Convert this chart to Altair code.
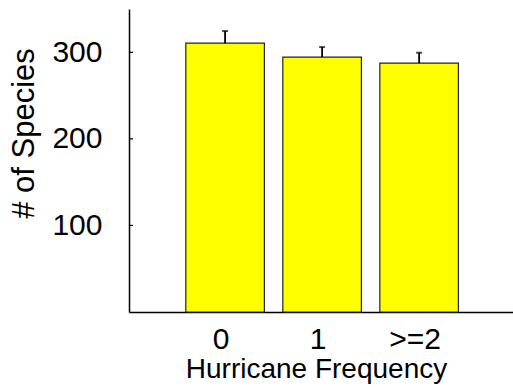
import altair as alt
import pandas as pd

categories = ["0", "1", ">=2"]
species_mean = [310.5, 294.5, 287.5]
species_upper = [324.5, 306.0, 299.5]
y_ticks = [100, 200, 300]

df = pd.DataFrame({"freq": categories, "mean": species_mean, "upper": species_upper})
ticks_df = pd.DataFrame({"t": y_ticks})

FONT = "Liberation Sans"

x_enc = alt.X(
    "freq:N",
    sort=categories,
    scale=alt.Scale(paddingInner=0.19, paddingOuter=0.574, align=0.51),
    axis=alt.Axis(
        title="Hurricane Frequency",
        labelAngle=0,
        ticks=False,
        tickSize=0,
        labelPadding=12,
        labelOffset=-4,
        labelFontSize=30,
        labelFont=FONT,
        labelColor="black",
        titleFontSize=28,
        titleFont=FONT,
        titleFontWeight="normal",
        titleColor="black",
        titleBaseline="alphabetic",
        titleAlign="center",
        titleX=187,
        titleY=65,
        domainColor="black",
        domainWidth=1.5,
    ),
)

y_scale = alt.Scale(domain=[0, 350], nice=False)

bars = alt.Chart(df).mark_bar(
    color="#FFFF00", stroke="#222222", strokeWidth=1.2
).encode(
    x=x_enc,
    y=alt.Y(
        "mean:Q",
        scale=y_scale,
        axis=alt.Axis(
            title="# of Species",
            values=y_ticks,
            grid=False,
            ticks=False,
            tickSize=0,
            labelPadding=27,
            labelFontSize=30,
            labelFont=FONT,
            labelColor="black",
            titleFontSize=31,
            titleFont=FONT,
            titleFontWeight="normal",
            titleColor="black",
            titleAngle=270,
            titleAlign="center",
            titleBaseline="alphabetic",
            titleX=-96,
            titleY=124,
            domainColor="black",
            domainWidth=1.5,
        ),
    ),
)

stems = alt.Chart(df).mark_rule(color="black", strokeWidth=1.8).encode(
    x=alt.X("freq:N", sort=categories),
    y=alt.Y("mean:Q", scale=y_scale),
    y2="upper:Q",
)

caps = alt.Chart(df).mark_tick(color="black", thickness=2, size=6, orient="horizontal").encode(
    x=alt.X("freq:N", sort=categories),
    y=alt.Y("upper:Q", scale=y_scale),
)

yticks = alt.Chart(ticks_df).mark_rule(color="black", strokeWidth=1.2).encode(
    y=alt.Y("t:Q", scale=y_scale),
    x=alt.value(0),
    x2=alt.value(4),
)

chart = alt.layer(bars, stems, caps, yticks).properties(
    width=384,
    height=303,
    padding={"left": 129, "top": 9, "right": 0, "bottom": 75},
    autosize=alt.AutoSizeParams(type="none"),
    background="white",
).configure_view(stroke=None)

chart.save("out.html", embed_options={"renderer": "svg", "actions": False})
